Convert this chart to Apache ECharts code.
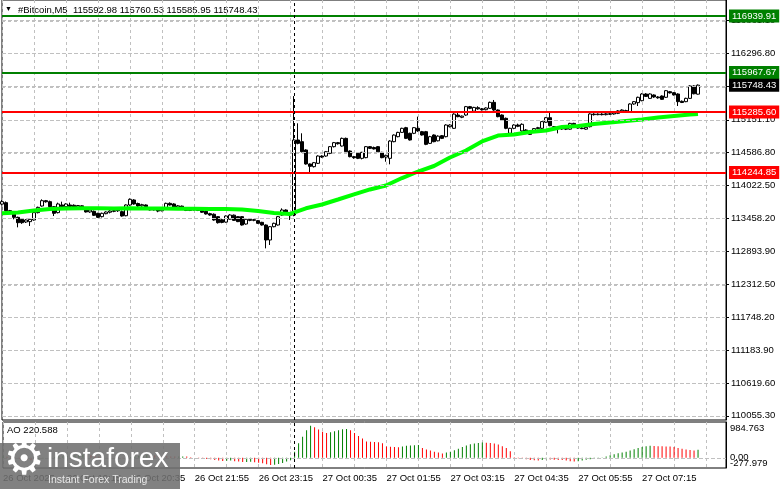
<!DOCTYPE html>
<html><head><meta charset="utf-8">
<script src="https://cdn.jsdelivr.net/npm/echarts@6/dist/echarts.min.js"></script>
<style>html,body{margin:0;padding:0;background:#fff}#c{width:781px;height:489px}</style>
</head><body><div id="c"></div>
<script>
// ---------- data ----------
const symbolName = '#Bitcoin,M5';
const lastOHLC = [115592.98, 115760.53, 115585.95, 115748.43]; // open high low close
const aoLast = 220.588;

const xTickLabels = ['26 Oct 2025','26 Oct 19:15','26 Oct 20:35','26 Oct 21:55','26 Oct 23:15',
  '27 Oct 00:35','27 Oct 01:55','27 Oct 03:15','27 Oct 04:35','27 Oct 05:55','27 Oct 07:15'];
const priceTicks = [110055.30,110619.60,111183.90,111748.20,112312.50,112893.90,113458.20,
  114022.50,114586.80,115151.10,115723.95,116296.80,116861.10];
const aoTicks = [-277.979, 0, 984.763];
const greenLevels = [116939.91, 115967.67];
const redLevels = [115285.60, 114244.85];
const separatorTime = '27 Oct 00:00';

const opens = [113700,113725,113587,113541,113472,113438,113392,113398,113426,113553,
 113667,113759,113742,113656,113553,113685,113656,113685,113680,113650,
 113670,113600,113565,113576,113541,113484,113535,113560,113575,113585,
 113570,113500,113685,113771,113710,113670,113685,113627,113600,113610,
 113585,113627,113713,113702,113650,113665,113627,113590,113600,113620,
 113590,113575,113535,113525,113484,113430,113390,113440,113510,113484,
 113484,113357,113438,113420,113415,113386,113340,113082,113311,113340,
 113512,113598,113545,113512,114804,114775,114632,114391,114345,114402,
 114528,114528,114574,114689,114758,114700,114832,114614,114517,114574,
 114488,114500,114689,114675,114689,114591,114510,114488,114775,114861,
 114935,115016,114919,114919,115005,114947,114947,114746,114890,114790,
 114878,114861,115033,115005,115234,115195,115234,115378,115300,115360,
 115340,115325,115349,115452,115320,115234,115177,114919,115005,115062,
 114960,114976,114958,114960,115000,115005,115110,115188,115033,115005,
 115010,115005,114990,115090,115040,115010,114990,115033,115250,115240,
 115250,115240,115255,115252,115263,115305,115310,115292,115424,115447,
 115481,115596,115521,115579,115545,115561,115539,115636,115619,115596,
 115470,115464,115521,115734,115592.98];
const closes = [113742,113587,113553,113472,113380,113380,113426,113438,113553,113644,
 113759,113740,113656,113541,113702,113656,113702,113660,113650,113675,
 113630,113565,113598,113507,113472,113541,113564,113581,113587,113598,
 113495,113685,113782,113702,113667,113690,113656,113600,113610,113580,
 113620,113713,113685,113644,113670,113630,113590,113600,113625,113590,
 113560,113530,113512,113426,113380,113385,113495,113512,113420,113398,
 113340,113438,113420,113432,113369,113340,113082,113311,113369,113484,
 113598,113560,113510,114804,114746,114603,114391,114350,114413,114528,
 114510,114603,114689,114758,114740,114832,114603,114517,114500,114488,
 114591,114689,114660,114650,114600,114500,114540,114786,114889,114935,
 115005,114832,114804,115016,114960,114890,114729,114861,114775,114870,
 114832,115062,115062,115250,115206,115215,115378,115349,115365,115340,
 115325,115355,115452,115320,115206,115148,115005,115005,115062,115040,
 115074,114918,114901,115000,115016,115120,115188,115050,115005,115010,
 114993,114990,115090,115040,115010,115000,115022,115252,115240,115250,
 115240,115255,115248,115270,115305,115320,115285,115424,115464,115539,
 115596,115555,115596,115545,115530,115504,115653,115615,115579,115464,
 115450,115521,115734,115600,115748.43];
const lows = [113680,113570,113540,113438,113300,113360,113375,113323,113415,113540,
 113656,113725,113645,113495,113540,113645,113645,113650,113640,113640,
 113620,113555,113550,113495,113460,113470,113525,113540,113560,113565,
 113484,113490,113670,113690,113650,113655,113645,113590,113590,113560,
 113575,113615,113675,113630,113635,113620,113580,113580,113590,113580,
 113550,113520,113500,113415,113365,113370,113380,113430,113410,113390,
 113330,113345,113405,113405,113360,113330,112938,112996,113300,113330,
 113500,113545,113426,113490,114730,114590,114380,114230,114330,114390,
 114495,114515,114560,114675,114725,114690,114590,114505,114480,114475,
 114470,114490,114650,114640,114590,114490,114430,114385,114765,114850,
 114925,114820,114795,114905,114945,114880,114715,114735,114765,114780,
 114820,114850,115020,114995,115195,115180,115220,115335,115290,115325,
 115310,115315,115340,115305,115195,115135,114990,114905,114990,115025,
 114945,114905,114890,114950,114990,114995,115100,115040,114995,114918,
 114980,114975,114980,115030,115000,114990,114980,115020,115225,115230,
 115228,115228,115236,115240,115250,115290,115275,115280,115410,115389,
 115470,115545,115510,115530,115515,115495,115528,115605,115570,115389,
 115440,115455,115510,115590,115585.95];
const highs = [113770,113745,113600,113553,113484,113450,113440,113450,113564,113656,
 113782,113771,113760,113667,113725,113742,113715,113725,113695,113685,
 113680,113610,113610,113590,113550,113553,113575,113600,113600,113610,
 113590,113695,113799,113785,113725,113705,113695,113640,113620,113620,
 113630,113725,113730,113715,113685,113675,113640,113615,113640,113630,
 113600,113590,113550,113540,113495,113445,113505,113525,113520,113495,
 113495,113450,113450,113445,113425,113395,113350,113320,113380,113495,
 113627,113610,113555,115560,115091,114919,114645,114400,114425,114540,
 114540,114615,114700,114770,114770,114845,114845,114625,114530,114585,
 114600,114700,114700,114690,114700,114600,114550,114800,114900,114945,
 115015,115030,114930,115025,115206,114960,114960,114875,114900,114885,
 114890,115075,115075,115265,115270,115225,115390,115390,115375,115385,
 115355,115365,115465,115493,115330,115245,115190,115015,115075,115085,
 115090,114990,114970,115010,115030,115130,115200,115292,115045,115020,
 115020,115015,115100,115100,115050,115025,115030,115265,115265,115262,
 115265,115268,115270,115282,115318,115332,115325,115435,115475,115550,
 115610,115610,115607,115590,115560,115572,115665,115648,115630,115608,
 115485,115532,115745,115745,115760.53];

// moving average read every 4 bars (last point = last bar)
const maValues = [113541,113555,113590,113616,113624,113628,113628,113624,113628,113624,
 113624,113619,113619,113616,113616,113607,113581,113547,113530,113628,
 113693,113779,113866,113952,114021,114149,114261,114356,114502,114623,
 114778,114881,114899,114942,114967,115028,115045,115079,115105,115131,
 115157,115191,115217,115243,115252];

const aoValues = [40,30,15,-5,-30,-50,-60,-65,-55,-40,-20,0,15,25,35,45,55,65,75,85,
 90,80,70,55,35,20,10,5,0,-5,-10,5,25,45,60,75,85,80,70,60,50,45,40,35,
 38,40,35,20,5,-10,-20,-30,-40,-55,-70,-85,-80,-75,-90,-100,-115,-110,-105,-120,
 -135,-150,-175,-195,-190,-170,-140,-100,-60,
 170,400,580,760,880,840,780,720,680,700,730,760,785,790,760,680,600,530,450,440,
 435,430,400,310,305,300,295,
 315,330,340,345,350,270,230,200,170,150,120,145,170,210,250,300,340,375,395,410,
 420,415,405,395,370,320,270,180,
 20,-10,-25,-40,-55,-65,-70,-60,-40,-45,-50,-55,-60,-75,-90,-100,-90,-70,-50,-35,-20,-10,
 10,40,70,100,125,150,170,200,240,270,300,320,330,325,320,318,315,310,300,270,
 250,230,215,200,aoLast];

// ---------- build ----------
const NCAT = 182;
const categories = [];
for (let k = 0; k < NCAT; k++) {
  const m = 17 * 60 + 55 + 5 * k;
  const day = m >= 1440 ? '27 Oct' : '26 Oct';
  const mm = m % 1440;
  categories.push(day + ' ' + String(Math.floor(mm / 60)).padStart(2, '0') + ':' + String(mm % 60).padStart(2, '0'));
}
const candleData = opens.map((o, i) => [o, closes[i], lows[i], highs[i]]);
const maData = maValues.map((v, k) => [categories[Math.min(4 * k, opens.length - 1)], v]);
const aoData = aoValues.map((v, i) => ({
  value: v,
  itemStyle: { color: (i > 0 && v < aoValues[i - 1]) ? '#ff0000' : '#008000' }
}));

const FONT = '"Liberation Sans", Arial, sans-serif';
const gridStyle = () => ({ color: '#c0c0c0', type: [3, 3], width: 1 });
const fmt2 = v => v.toFixed(2);

// dashed horizontal grid line: row of small dash rects, y taken from the axis scale
function hGridRender(params, api) {
  const cs = params.coordSys;
  const y = Math.round(api.coord([api.value(0), api.value(1)])[1]);
  const children = [];
  for (let x = cs.x; x < cs.x + cs.width; x += 6) {
    children.push({ type: 'rect', shape: { x: x, y: y, width: 3, height: 1 },
      style: { fill: '#c0c0c0' }, silent: true });
  }
  return { type: 'group', children: children };
}

function levelLine(v, color) {
  return {
    yAxis: v,
    lineStyle: { color: color, width: 2, type: 'solid' },
    label: {
      show: true, position: 'end', distance: 3, formatter: p => fmt2(p.value),
      backgroundColor: color, color: '#fff', fontSize: 9.5, fontFamily: FONT,
      padding: [2, 3, 1, 3]
    }
  };
}
function gridMark(v) {
  return { yAxis: v, lineStyle: { color: '#c0c0c0', width: 1, type: 'dashed' }, label: { show: false } };
}

const chart = echarts.init(document.getElementById('c'), null, { renderer: 'canvas' });
chart.setOption({
  animation: false,
  backgroundColor: '#fff',
  textStyle: { fontFamily: FONT },
  grid: [
    { left: 2, top: 0, width: 724, height: 420, show: true, borderColor: '#000', borderWidth: 1 },
    { left: 2, top: 422, width: 724, height: 46, show: true, borderColor: '#000', borderWidth: 1 }
  ],
  xAxis: [
    { type: 'category', gridIndex: 0, data: categories, boundaryGap: false,
      axisLine: { show: false }, axisTick: { show: false }, axisLabel: { show: false },
      splitLine: { show: true, interval: i => i % 8 === 0, lineStyle: gridStyle() } },
    { type: 'category', gridIndex: 1, data: categories, boundaryGap: false,
      axisLine: { show: false }, axisTick: { show: false },
      axisLabel: { show: true, interval: i => i % 16 === 0 && i / 16 < xTickLabels.length,
        formatter: (v, i) => xTickLabels[i / 16] || '', align: 'left', margin: 5,
        color: '#000', fontSize: 9.5, fontFamily: FONT },
      splitLine: { show: true, interval: i => i % 8 === 0, lineStyle: gridStyle() } }
  ],
  yAxis: [
    { type: 'value', gridIndex: 0, position: 'right', min: 109982.2, max: 117214.6,
      axisLine: { show: true, lineStyle: { color: '#000' } },
      axisTick: { show: true, length: 3, customValues: priceTicks, lineStyle: { color: '#000' } },
      axisLabel: { customValues: priceTicks, formatter: fmt2, color: '#000', fontSize: 9.5, fontFamily: FONT, margin: 5, hideOverlap: false },
      splitLine: { show: false } },
    { type: 'value', gridIndex: 1, position: 'right', min: aoTicks[0], max: aoTicks[2],
      axisLine: { show: true, lineStyle: { color: '#000' } },
      axisTick: { show: false, customValues: [aoTicks[0], aoTicks[2]] },
      axisLabel: { customValues: [aoTicks[0], aoTicks[2]], margin: 4, color: '#000', fontSize: 9.5, fontFamily: FONT,
        hideOverlap: false, showMinLabel: true, showMaxLabel: true,
        formatter: v => v > 0 ? '{t|' + v.toFixed(3) + '}' : '{b|' + v.toFixed(3) + '}',
        rich: { t: { padding: [12, 0, 0, 0], fontSize: 9.5 }, b: { padding: [0, 0, 10, 0], fontSize: 9.5 } } },
      splitLine: { show: false } }
  ],
  series: [
    // horizontal price grid (below the candles)
    { type: 'custom', xAxisIndex: 0, yAxisIndex: 0, z: 1, silent: true, clip: false,
      data: priceTicks.map(v => [categories[0], v]), encode: { x: 0, y: 1 }, renderItem: hGridRender },
    // AO zero line
    { type: 'custom', xAxisIndex: 1, yAxisIndex: 1, z: 1, silent: true, clip: false,
      data: [[categories[0], aoTicks[1]]], encode: { x: 0, y: 1 }, renderItem: hGridRender },
    { type: 'candlestick', xAxisIndex: 0, yAxisIndex: 0, data: candleData, barWidth: 3,
      itemStyle: { color: '#fff', color0: '#000', borderColor: '#000', borderColor0: '#000', borderWidth: 1 },
      markLine: {
        symbol: 'none', silent: true, animation: false, label: { show: false },
        data: [
          ...priceTicks.map(gridMark),
          ...greenLevels.map(v => levelLine(v, '#008000')),
          ...redLevels.map(v => levelLine(v, '#ff0000')),
          { yAxis: lastOHLC[3], lineStyle: { color: 'rgba(0,0,0,0)', width: 1 },
            label: { show: true, position: 'end', distance: 3, formatter: p => fmt2(p.value),
              backgroundColor: '#000', color: '#fff', fontSize: 9.5, fontFamily: FONT, padding: [2, 3, 1, 3] } },
          { xAxis: separatorTime, lineStyle: { color: '#000', width: 1, type: [3, 3] }, label: { show: false } }
        ]
      } },
    { type: 'line', xAxisIndex: 0, yAxisIndex: 0, data: maData, showSymbol: false, symbol: 'none',
      lineStyle: { color: '#00ff00', width: 4 }, z: 3, silent: true },
    { type: 'bar', xAxisIndex: 1, yAxisIndex: 1, data: aoData, barWidth: 1, silent: true,
      markLine: { symbol: 'none', silent: true, animation: false,
        data: [
          { yAxis: aoTicks[1], lineStyle: { color: '#c0c0c0', width: 1, type: 'dashed' },
            label: { show: true, position: 'end', distance: 4, formatter: '0.00', color: '#000', fontSize: 9.5, fontFamily: FONT, padding: [0, 0, 2, 0] } },
          { xAxis: separatorTime, lineStyle: { color: '#000', width: 1, type: [3, 3] }, label: { show: false } }
        ] } }
  ],
  graphic: [
    { type: 'text', left: 5, top: 6, style: { text: '▼', fontSize: 7, fill: '#000' } },
    { type: 'text', left: 18, top: 5, style: { text: symbolName + '  ' + lastOHLC.map(fmt2).join(' '),
      fontSize: 9.5, fontFamily: FONT, fill: '#000' } },
    { type: 'text', left: 7, top: 425, style: { text: 'AO ' + aoLast.toFixed(3), fontSize: 9.5, fontFamily: FONT, fill: '#000' } },
    { type: 'rect', left: 0, top: 443, shape: { width: 180, height: 46 }, style: { fill: 'rgba(112,112,112,0.88)' }, z: 100 },
    { type: 'text', x: 24, y: 462, z: 101, style: { text: '⚙', fontSize: 46, fill: '#fff', align: 'center', verticalAlign: 'middle', fontFamily: '"DejaVu Sans"' } },
    { type: 'text', left: 47, top: 445, z: 101, style: { text: 'instaforex', fontSize: 28, fill: '#fff', fontFamily: FONT } },
    { type: 'text', left: 48, top: 475, z: 101, style: { text: 'Instant Forex Trading', fontSize: 10.5, fill: '#e8e8e8', fontFamily: FONT } }
  ]
});
</script></body></html>
